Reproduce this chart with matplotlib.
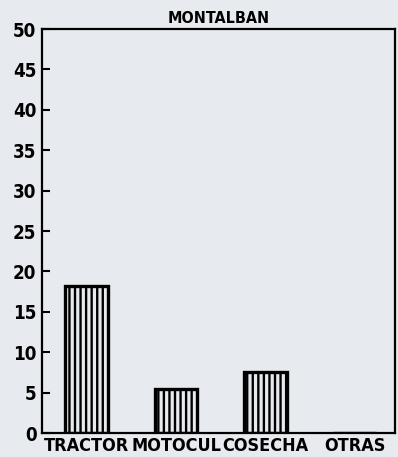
import matplotlib
matplotlib.use("Agg")
import matplotlib.pyplot as plt

categories = ["TRACTOR", "MOTOCUL", "COSECHA", "OTRAS"]
values = [18.2, 5.4, 7.5, 0.0]
yticks = [0, 5, 10, 15, 20, 25, 30, 35, 40, 45, 50]
title = "MONTALBAN"

bg = "#e7ebef"
plt.rcParams["hatch.linewidth"] = 1.7
plt.rcParams["hatch.color"] = "black"

fig = plt.figure(figsize=(3.98, 4.57), dpi=100, facecolor=bg)
ax = fig.add_axes([0.1055, 0.0525, 0.887, 0.884])
ax.set_facecolor(bg)

x = list(range(len(categories)))
ax.bar(x, values, width=0.48, color=bg, edgecolor="black", linewidth=2.4, hatch="|||")

ax.set_xlim(-0.5, 3.45)
ax.set_ylim(0, 50)
ax.set_yticks(yticks)
ax.set_yticklabels([str(v) for v in yticks], fontsize=13.5, fontweight="bold",
                   family="DejaVu Sans", fontstretch="condensed")
ax.tick_params(axis="y", direction="in", length=6, width=1.5, pad=4)
ax.set_xticks(x)
ax.set_xticklabels(categories, fontsize=13, fontweight="bold",
                   family="DejaVu Sans", fontstretch="condensed")
ax.tick_params(axis="x", length=0, pad=3)
for s in ax.spines.values():
    s.set_linewidth(1.6)
    s.set_color("black")

ax.set_title(title, fontsize=11.5, fontweight="bold", pad=4, family="DejaVu Sans",
             fontstretch="condensed")

fig.savefig("out.png", dpi=100, facecolor=bg)
